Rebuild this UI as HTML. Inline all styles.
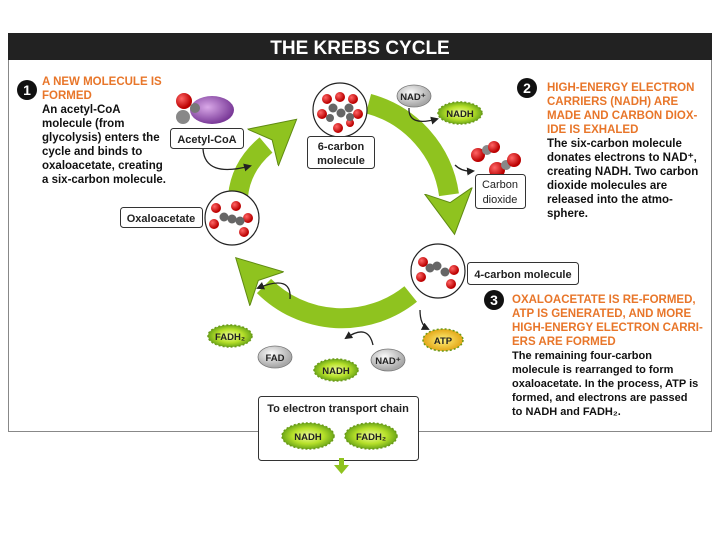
<!DOCTYPE html>
<html><head><meta charset="utf-8"><style>
body{margin:0;background:#fff;width:720px;height:540px;overflow:hidden}
svg{display:block}
text{font-family:"Liberation Sans",sans-serif;font-weight:bold}
.b{font-size:11.5px;fill:#111}
.b3{font-size:11px;fill:#111}
.o{font-size:11.5px;fill:#e8762a}
.l{font-size:11px;fill:#222}
</style></head><body>
<svg width="720" height="540" viewBox="0 0 720 540">
<defs>
<marker id="h" markerUnits="userSpaceOnUse" markerWidth="46" markerHeight="52" refX="4" refY="26" orient="auto">
<path d="M0,2 L44,26 L0,50 L12,26z" fill="#8fc31f" stroke="#5f8a12" stroke-width="1"/>
</marker>
<marker id="s" markerUnits="userSpaceOnUse" markerWidth="8" markerHeight="8" refX="6" refY="4" orient="auto">
<path d="M0,0 L8,4 L0,8z" fill="#222"/>
</marker>
<radialGradient id="g" cx="50%" cy="50%" r="50%"><stop offset="0" stop-color="#eefc9a"/><stop offset="0.6" stop-color="#b6e02a"/><stop offset="1" stop-color="#6ea818"/></radialGradient>
<radialGradient id="y" cx="50%" cy="50%" r="50%"><stop offset="0" stop-color="#fff27a"/><stop offset="1" stop-color="#e3a617"/></radialGradient>
<radialGradient id="gr" cx="40%" cy="35%" r="60%"><stop offset="0" stop-color="#fafafa"/><stop offset="1" stop-color="#a8a8a8"/></radialGradient>
<radialGradient id="rd" cx="35%" cy="35%" r="60%"><stop offset="0" stop-color="#f66"/><stop offset="1" stop-color="#b00"/></radialGradient>
<radialGradient id="pu" cx="40%" cy="40%" r="60%"><stop offset="0" stop-color="#d9a8e8"/><stop offset="1" stop-color="#7a3a98"/></radialGradient>
</defs>
<rect x="8.5" y="33.5" width="703" height="398" fill="#fff" stroke="#888"/>
<rect x="8" y="33" width="704" height="27" fill="#222"/>
<text x="360" y="54" text-anchor="middle" style="font-size:19px;fill:#fff">THE KREBS CYCLE</text>

<g fill="none" stroke="#8fc31f" stroke-width="20">
<path d="M238,196 Q241,166 266,145" marker-end="url(#h)"/>
<path d="M368.5,103.7 A110,110 0 0 1 449,194.7" marker-end="url(#h)"/>
<path d="M410.7,294 A110,110 0 0 1 264,286" marker-end="url(#h)"/>
</g>

<g fill="none" stroke="#222" stroke-width="1.3">
<path d="M203,149 Q205,178 250,166" marker-end="url(#s)"/>
<path d="M409,108 Q408,127 437,119" marker-end="url(#s)"/>
<path d="M455,165 Q462,172 473,171" marker-end="url(#s)"/>
<path d="M290,299 Q292,274 258,288" marker-end="url(#s)"/>
<path d="M373,345 Q368,323 346,338" marker-end="url(#s)"/>
<path d="M420,310 Q420,325 428,329" marker-end="url(#s)"/>
</g>

<g fill="#fff" stroke="#222" stroke-width="1.2">
<circle cx="340" cy="110" r="27"/>
<circle cx="232" cy="218" r="27"/>
<circle cx="438" cy="271" r="27"/>
</g>
<g fill="url(#rd)">
<circle cx="327" cy="99" r="5"/><circle cx="340" cy="97" r="5"/><circle cx="353" cy="99" r="5"/>
<circle cx="322" cy="114" r="5"/><circle cx="358" cy="114" r="5"/><circle cx="338" cy="128" r="5"/><circle cx="350" cy="123" r="4"/>
<circle cx="216" cy="208" r="5"/><circle cx="236" cy="206" r="5"/><circle cx="214" cy="224" r="5"/><circle cx="248" cy="218" r="5"/><circle cx="244" cy="232" r="5"/>
<circle cx="423" cy="262" r="5"/><circle cx="421" cy="277" r="5"/><circle cx="454" cy="270" r="5"/><circle cx="451" cy="284" r="5"/>
</g>
<g fill="#666">
<circle cx="333" cy="108" r="4.5"/><circle cx="341" cy="113" r="4.5"/><circle cx="349" cy="108" r="4.5"/><circle cx="330" cy="118" r="4"/><circle cx="350" cy="117" r="4"/>
<circle cx="224" cy="217" r="4.5"/><circle cx="232" cy="219" r="4.5"/><circle cx="240" cy="221" r="4.5"/>
<circle cx="430" cy="268" r="4.5"/><circle cx="437" cy="266" r="4.5"/><circle cx="445" cy="272" r="4.5"/>
</g>

<ellipse cx="212" cy="110" rx="22" ry="14" fill="url(#pu)"/>
<circle cx="195" cy="108" r="5" fill="#777"/>
<circle cx="183" cy="117" r="7" fill="#888"/>
<circle cx="184" cy="101" r="8" fill="url(#rd)"/>
<circle cx="478" cy="155" r="7" fill="url(#rd)"/><circle cx="487" cy="150" r="5" fill="#888"/><circle cx="494" cy="147" r="6" fill="url(#rd)"/>
<circle cx="497" cy="170" r="8" fill="url(#rd)"/><circle cx="506" cy="165" r="5" fill="#888"/><circle cx="514" cy="160" r="7" fill="url(#rd)"/>

<g fill="#fff" stroke="#333" stroke-width="1">
<rect x="170.5" y="128.5" width="73" height="20" rx="3"/>
<rect x="307.5" y="136.5" width="67" height="32" rx="3"/>
<rect x="120.5" y="207.5" width="82" height="20" rx="3"/>
<rect x="475.5" y="174.5" width="50" height="34" rx="3"/>
<rect x="467.5" y="262.5" width="111" height="22" rx="3"/>
<rect x="258.5" y="396.5" width="160" height="64" rx="3"/>
</g>
<text class="l" x="207" y="143" text-anchor="middle">Acetyl-CoA</text>
<text class="l" x="341" y="150" text-anchor="middle">6-carbon</text>
<text class="l" x="341" y="164" text-anchor="middle">molecule</text>
<text class="l" x="161" y="222" text-anchor="middle">Oxaloacetate</text>
<text class="l" x="500" y="188" text-anchor="middle" style="font-weight:normal">Carbon</text>
<text class="l" x="500" y="203" text-anchor="middle" style="font-weight:normal">dioxide</text>
<text class="l" x="523" y="278" text-anchor="middle">4-carbon molecule</text>
<text class="l" x="338" y="412" text-anchor="middle">To electron transport chain</text>

<g stroke="#6a9a18" stroke-width="1.5" stroke-dasharray="2 2">
<ellipse cx="460" cy="113" rx="22" ry="11" fill="url(#g)"/>
<ellipse cx="230" cy="336" rx="22" ry="11" fill="url(#g)"/>
<ellipse cx="336" cy="370" rx="22" ry="11" fill="url(#g)"/>
<ellipse cx="443" cy="340" rx="20" ry="11" fill="url(#y)"/>
<ellipse cx="308" cy="436" rx="26" ry="13" fill="url(#g)"/>
<ellipse cx="371" cy="436" rx="26" ry="13" fill="url(#g)"/>
</g>
<g stroke="#777" stroke-width="0.8">
<ellipse cx="414" cy="96" rx="17" ry="11" fill="url(#gr)"/>
<ellipse cx="275" cy="357" rx="17" ry="11" fill="url(#gr)"/>
<ellipse cx="388" cy="360" rx="17" ry="11" fill="url(#gr)"/>
</g>
<g style="font-size:9.5px" fill="#222" text-anchor="middle">
<text x="460" y="117">NADH</text><text x="413" y="100">NAD⁺</text>
<text x="230" y="340">FADH₂</text><text x="275" y="361">FAD</text>
<text x="336" y="374">NADH</text><text x="388" y="364">NAD⁺</text>
<text x="443" y="344">ATP</text>
<text x="308" y="440">NADH</text><text x="371" y="440">FADH₂</text>
</g>
<rect x="339" y="458" width="5" height="8" fill="#8fc31f"/>
<path d="M334,465 L349,465 L341.5,474z" fill="#8fc31f"/>

<circle cx="27" cy="90" r="10" fill="#111"/><text x="27" y="95" text-anchor="middle" style="font-size:14px;fill:#fff">1</text>
<circle cx="527" cy="88" r="10" fill="#111"/><text x="527" y="93" text-anchor="middle" style="font-size:14px;fill:#fff">2</text>
<circle cx="494" cy="300" r="10" fill="#111"/><text x="494" y="305" text-anchor="middle" style="font-size:14px;fill:#fff">3</text>

<text class="o" x="42" y="85">A NEW MOLECULE IS</text>
<text class="o" x="42" y="99">FORMED</text>
<text class="b" x="42" y="113">An acetyl-CoA</text>
<text class="b" x="42" y="127">molecule (from</text>
<text class="b" x="42" y="141">glycolysis) enters the</text>
<text class="b" x="42" y="155">cycle and binds to</text>
<text class="b" x="42" y="169">oxaloacetate, creating</text>
<text class="b" x="42" y="183">a six-carbon molecule.</text>
<text class="o" x="547" y="91">HIGH-ENERGY ELECTRON</text>
<text class="o" x="547" y="105">CARRIERS (NADH) ARE</text>
<text class="o" x="547" y="119">MADE AND CARBON DIOX-</text>
<text class="o" x="547" y="133">IDE IS EXHALED</text>
<text class="b" x="547" y="147">The six-carbon molecule</text>
<text class="b" x="547" y="161">donates electrons to NAD⁺,</text>
<text class="b" x="547" y="175">creating NADH.  Two carbon</text>
<text class="b" x="547" y="189">dioxide molecules are</text>
<text class="b" x="547" y="203">released into the atmo-</text>
<text class="b" x="547" y="217">sphere.</text>
<text class="o" x="512" y="303">OXALOACETATE IS RE-FORMED,</text>
<text class="o" x="512" y="317">ATP IS GENERATED, AND MORE</text>
<text class="o" x="512" y="331">HIGH-ENERGY ELECTRON CARRI-</text>
<text class="o" x="512" y="345">ERS ARE FORMED</text>
<text class="b3" x="512" y="359">The remaining four-carbon</text>
<text class="b3" x="512" y="373">molecule is rearranged to form</text>
<text class="b3" x="512" y="387">oxaloacetate. In the process, ATP is</text>
<text class="b3" x="512" y="401">formed, and electrons are passed</text>
<text class="b3" x="512" y="415">to NADH and FADH₂.</text>
</svg>
</body></html>
